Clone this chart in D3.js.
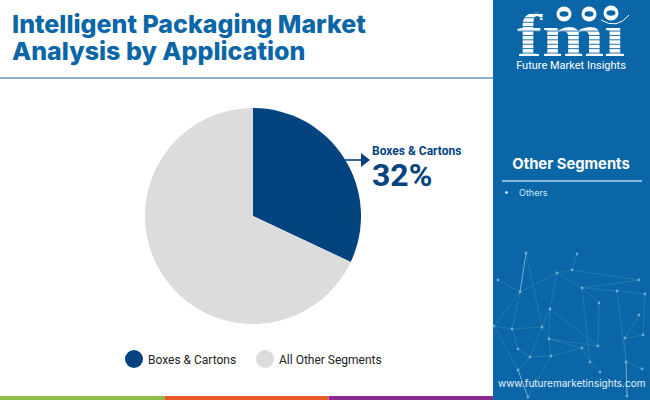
<!DOCTYPE html>
<html>
<head>
<meta charset="utf-8">
<script src="https://cdn.jsdelivr.net/npm/d3@7"></script>
<style>
html, body { margin: 0; padding: 0; background: #fff; }
svg { display: block; }
</style>
</head>
<body>
<svg width="650" height="400"></svg>
<script>
var categories = ["Boxes & Cartons", "All Other Segments"];
var shares = [32, 68];
var colors = ["#03437f", "#dcdcdc"];
var titleLines = ["Intelligent Packaging Market", "Analysis by Application"];
var otherSegments = ["Others"];
// footer stripe
var stripeColors = ["#8cc04b", "#e85a2a", "#8a2a8a"];
// background network in the side panel, just decoration
var nodes = [[526,253],[577,254],[572,270],[557,273],[639,280],[582,288],[617,291],[520,292],[645,294],[550,309],[599,303],[639,315],[494,326],[512,329],[542,327],[625,338],[643,335],[549,339],[598,346],[582,348],[518,349],[530,357],[551,356],[590,362],[518,370],[600,372],[626,362],[642,369],[498,280],[627,396],[528,397]];
var links = [[0,7],[0,14],[1,2],[2,3],[2,4],[3,5],[3,7],[3,9],[5,4],[5,6],[6,8],[6,26],[5,23],[7,12],[7,13],[7,28],[9,18],[9,17],[9,14],[10,18],[10,5],[13,20],[13,14],[14,21],[17,18],[17,22],[17,14],[19,22],[19,23],[19,17],[20,21],[21,22],[21,24],[22,30],[24,30],[26,15],[26,29],[15,16],[15,11],[16,8],[26,27],[25,23],[12,13],[24,12]];
// brighter strokes
var brightLinks = [[0,7],[26,29],[24,30]];

var svg = d3.select("svg");

svg.append("rect").attr("width", 650).attr("height", 400).attr("fill", "#fff");

// title
svg.selectAll(".title")
  .data(titleLines)
  .enter().append("text")
    .attr("class", "title")
    .attr("x", 12)
    .attr("y", function(d, i) { return 33 + i * 27; })
    .attr("font-family", "Inter")
    .attr("font-weight", 800)
    .attr("font-size", 25)
    .attr("fill", "#0a66a6")
    .text(function(d) { return d; });

svg.append("rect").attr("x", 0).attr("y", 77).attr("width", 493).attr("height", 2).attr("fill", "#8ab1d0");

// pie
var pie = d3.pie().sort(null)(shares);
var arc = d3.arc().innerRadius(0).outerRadius(108);

svg.append("g")
    .attr("transform", "translate(253,216)")
  .selectAll("path")
  .data(pie)
  .enter().append("path")
    .attr("d", arc)
    .attr("fill", function(d, i) { return colors[i]; });

// callout
svg.append("line")
    .attr("x1", 345).attr("y1", 160).attr("x2", 362).attr("y2", 160)
    .attr("stroke", colors[0]).attr("stroke-width", 1.6);
svg.append("path").attr("d", "M361,153L370,160L361,167Z").attr("fill", colors[0]);
svg.append("text")
    .attr("x", 372).attr("y", 155)
    .attr("font-family", "Roboto").attr("font-weight", 700).attr("font-size", 12)
    .attr("fill", colors[0])
    .text(categories[0]);
svg.append("text")
    .attr("x", 372).attr("y", 186)
    .attr("font-family", "Roboto").attr("font-weight", 700).attr("font-size", 32)
    .attr("fill", colors[0])
    .text(shares[0] + "%");

// legend
var legendX = d3.scalePoint().domain(categories).range([134, 265]);
var legend = svg.selectAll(".legend")
  .data(categories)
  .enter().append("g")
    .attr("class", "legend")
    .attr("transform", function(d) { return "translate(" + legendX(d) + ",359)"; });
legend.append("circle").attr("r", 9).attr("fill", function(d, i) { return colors[i]; });
legend.append("text")
    .attr("x", 14).attr("y", 5)
    .attr("font-family", "Roboto").attr("font-size", 12)
    .attr("fill", "#222")
    .text(function(d) { return d; });

// footer stripe
var stripeX = d3.scaleBand().domain(d3.range(stripeColors.length)).range([0, 493]);
svg.selectAll(".stripe")
  .data(stripeColors)
  .enter().append("rect")
    .attr("class", "stripe")
    .attr("x", function(d, i) { return stripeX(i); })
    .attr("y", 396)
    .attr("width", stripeX.bandwidth())
    .attr("height", 4)
    .attr("fill", function(d) { return d; });

// side panel
var panel = svg.append("g");
panel.append("rect").attr("x", 493).attr("y", 0).attr("width", 157).attr("height", 400).attr("fill", "#0a66a6");

panel.selectAll(".link")
  .data(links)
  .enter().append("line")
    .attr("x1", function(d) { return nodes[d[0]][0]; })
    .attr("y1", function(d) { return nodes[d[0]][1]; })
    .attr("x2", function(d) { return nodes[d[1]][0]; })
    .attr("y2", function(d) { return nodes[d[1]][1]; })
    .attr("stroke", "#7fc0dc").attr("stroke-opacity", 0.35).attr("stroke-width", 0.6);
panel.selectAll(".bright")
  .data(brightLinks)
  .enter().append("line")
    .attr("x1", function(d) { return nodes[d[0]][0]; })
    .attr("y1", function(d) { return nodes[d[0]][1]; })
    .attr("x2", function(d) { return nodes[d[1]][0]; })
    .attr("y2", function(d) { return nodes[d[1]][1]; })
    .attr("stroke", "#a5d3e4").attr("stroke-opacity", 0.55).attr("stroke-width", 1);
panel.selectAll(".node")
  .data(nodes)
  .enter().append("circle")
    .attr("cx", function(d) { return d[0]; })
    .attr("cy", function(d) { return d[1]; })
    .attr("r", 1.4)
    .attr("fill", "#a5d3e4").attr("fill-opacity", 0.6);

// logo, dotless i because the globes sit above it
panel.append("text")
    .attr("x", 571).attr("y", 56)
    .attr("text-anchor", "middle")
    .attr("font-family", "Liberation Serif").attr("font-weight", 700).attr("font-size", 62)
    .attr("textLength", 108).attr("lengthAdjust", "spacingAndGlyphs")
    .attr("fill", "#fff")
    .text("fmı");
// panel coloured bars cut the letters into stripes
panel.selectAll(".cut")
  .data(d3.range(13, 58, 4.4))
  .enter().append("rect")
    .attr("class", "cut")
    .attr("x", 512).attr("y", function(d) { return d; })
    .attr("width", 118).attr("height", 0.9)
    .attr("fill", "#0a66a6");
var globes = panel.selectAll(".globe")
  .data([[564,14],[589,14],[611,13]])
  .enter().append("g")
    .attr("transform", function(d) { return "translate(" + d[0] + "," + d[1] + ")"; });
globes.append("circle").attr("r", 7.5).attr("fill", "#fff");
globes.append("ellipse").attr("rx", 4.5).attr("ry", 2.8).attr("fill", "#0a66a6");
panel.append("path")
    .attr("d", "M601,20Q617,30 629,15")
    .attr("fill", "none").attr("stroke", "#fff").attr("stroke-width", 1);
panel.append("text")
    .attr("x", 571).attr("y", 69)
    .attr("text-anchor", "middle")
    .attr("font-family", "Roboto").attr("font-size", 11)
    .attr("fill", "#fff")
    .text("Future Market Insights");

panel.append("text")
    .attr("x", 571).attr("y", 169)
    .attr("text-anchor", "middle")
    .attr("font-family", "Inter").attr("font-weight", 700).attr("font-size", 14.8)
    .attr("fill", "#fff")
    .text("Other Segments");
panel.append("rect").attr("x", 502).attr("y", 180).attr("width", 140).attr("height", 2).attr("fill", "#8ab8dc");

panel.selectAll(".seg")
  .data(otherSegments)
  .enter().append("text")
    .attr("class", "seg")
    .attr("x", 519)
    .attr("y", function(d, i) { return 196 + i * 14; })
    .attr("font-family", "Inter").attr("font-size", 9)
    .attr("fill", "#cfe6f5")
    .text(function(d) { return d; });
panel.append("circle").attr("cx", 506.5).attr("cy", 192.5).attr("r", 1.3).attr("fill", "#fff");

panel.append("text")
    .attr("x", 498).attr("y", 387)
    .attr("font-family", "Inter").attr("font-size", 10)
    .attr("fill", "#e6f2fa")
    .text("www.futuremarketinsights.com");
</script>
</body>
</html>
